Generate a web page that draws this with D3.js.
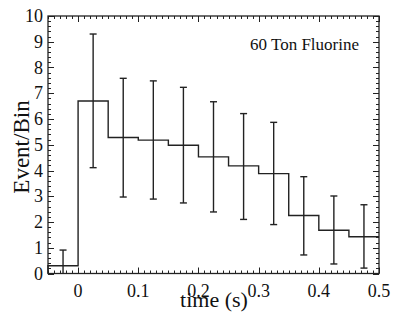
<!DOCTYPE html>
<html>
<head>
<meta charset="utf-8">
<script src="https://cdn.jsdelivr.net/npm/d3@7"></script>
<style>
  body { margin: 0; background: #fff; }
  text { font-family: "Liberation Serif", "Times New Roman", serif; fill: #111; }
</style>
</head>
<body>
<div id="vis"></div>
<script>
// bin edges (left) and contents
var binStart = [-0.05, 0, 0.05, 0.1, 0.15, 0.2, 0.25, 0.3, 0.35, 0.4, 0.45];
var counts   = [0.30, 6.70, 5.28, 5.18, 4.98, 4.53, 4.18, 3.88, 2.25, 1.68, 1.43];
var errHigh  = [0.91, 9.30, 7.58, 7.48, 7.23, 6.67, 6.21, 5.87, 3.76, 3.01, 2.67];
var errLow   = [0.00, 4.11, 2.97, 2.89, 2.74, 2.39, 2.10, 1.90, 0.72, 0.37, 0.21];
var binWidth = 0.05;
var xTicks = [0, 0.1, 0.2, 0.3, 0.4, 0.5];
var yTicks = [0, 1, 2, 3, 4, 5, 6, 7, 8, 9, 10];

var width = 409, height = 316;
// plot frame (named so they don't clash with window.top)
var pLeft = 48, pRight = 379, pTop = 16, pBottom = 273.5;

var svg = d3.select("#vis")
    .append("svg")
    .attr("width", width)
    .attr("height", height);

var xScale = d3.scaleLinear().domain([-0.05, 0.5]).range([pLeft, pRight]);
var yScale = d3.scaleLinear().domain([0, 10]).range([pBottom, pTop]);

// minor and major ticks, all pointing inward, on every side
var xMinor = d3.range(-0.05, 0.5001, 0.01).map(function (d) { return +d.toFixed(2); });
var yMinor = d3.range(0, 10.001, 0.2).map(function (d) { return +d.toFixed(1); });

function isMajorX(d) { return Math.abs(d * 10 - Math.round(d * 10)) < 1e-6; }
function isMajorY(d) { return Math.abs(d - Math.round(d)) < 1e-6; }

var ticks = svg.append("g").attr("stroke", "#222").attr("stroke-width", 1);

xMinor.forEach(function (d) {
    var len = isMajorX(d) ? 6 : 3;
    var x = Math.round(xScale(d)) + 0.5;
    ticks.append("line").attr("x1", x).attr("x2", x).attr("y1", pBottom).attr("y2", pBottom - len);
    ticks.append("line").attr("x1", x).attr("x2", x).attr("y1", pTop).attr("y2", pTop + len);
});
yMinor.forEach(function (d) {
    var len = isMajorY(d) ? 6 : 3;
    var y = Math.round(yScale(d)) + 0.5;
    ticks.append("line").attr("x1", pLeft).attr("x2", pLeft + len).attr("y1", y).attr("y2", y);
    ticks.append("line").attr("x1", pRight).attr("x2", pRight - len).attr("y1", y).attr("y2", y);
});

// frame
svg.append("rect")
    .attr("x", pLeft).attr("y", pTop)
    .attr("width", pRight - pLeft).attr("height", pBottom - pTop)
    .attr("fill", "none").attr("stroke", "#222").attr("stroke-width", 1.3);

// tick labels
svg.selectAll(".xlab")
    .data(xTicks)
    .enter()
    .append("text")
    .attr("class", "xlab")
    .attr("text-anchor", "middle")
    .attr("x", function (d) { return xScale(d); })
    .attr("y", 297)
    .attr("font-size", 18)
    .text(function (d) { return d; });

svg.selectAll(".ylab")
    .data(yTicks)
    .enter()
    .append("text")
    .attr("class", "ylab")
    .attr("text-anchor", "end")
    .attr("x", 43)
    .attr("y", function (d) { return yScale(d) + 6; })
    .attr("font-size", 18)
    .text(function (d) { return d; });

// histogram as a step line
var steps = [[binStart[0], 0]];
binStart.forEach(function (b, i) {
    steps.push([b, counts[i]]);
    steps.push([b + binWidth, counts[i]]);
});

svg.append("path")
    .datum(steps)
    .attr("fill", "none")
    .attr("stroke", "#222")
    .attr("stroke-width", 1.4)
    .attr("d", d3.line()
        .x(function (d) { return xScale(d[0]); })
        .y(function (d) { return yScale(d[1]); }));

// error bars at bin centres
var bars = svg.append("g").attr("stroke", "#222").attr("stroke-width", 1.4);
binStart.forEach(function (b, i) {
    var x = xScale(b + binWidth / 2);
    bars.append("line").attr("x1", x).attr("x2", x)
        .attr("y1", yScale(errLow[i])).attr("y2", yScale(errHigh[i]));
    bars.append("line").attr("x1", x - 3.5).attr("x2", x + 3.5)
        .attr("y1", yScale(errHigh[i])).attr("y2", yScale(errHigh[i]));
    if (errLow[i] > 0) {
        bars.append("line").attr("x1", x - 3.5).attr("x2", x + 3.5)
            .attr("y1", yScale(errLow[i])).attr("y2", yScale(errLow[i]));
    }
});

// labels
svg.append("text")
    .attr("text-anchor", "middle")
    .attr("x", 214)
    .attr("y", 307)
    .attr("font-size", 22)
    .text("time (s)");

svg.append("text")
    .attr("text-anchor", "middle")
    .attr("transform", "translate(29,147) rotate(-90)")
    .attr("font-size", 23)
    .text("Event/Bin");

svg.append("text")
    .attr("text-anchor", "start")
    .attr("x", 250)
    .attr("y", 50)
    .attr("font-size", 17)
    .text("60 Ton Fluorine");
</script>
</body>
</html>
